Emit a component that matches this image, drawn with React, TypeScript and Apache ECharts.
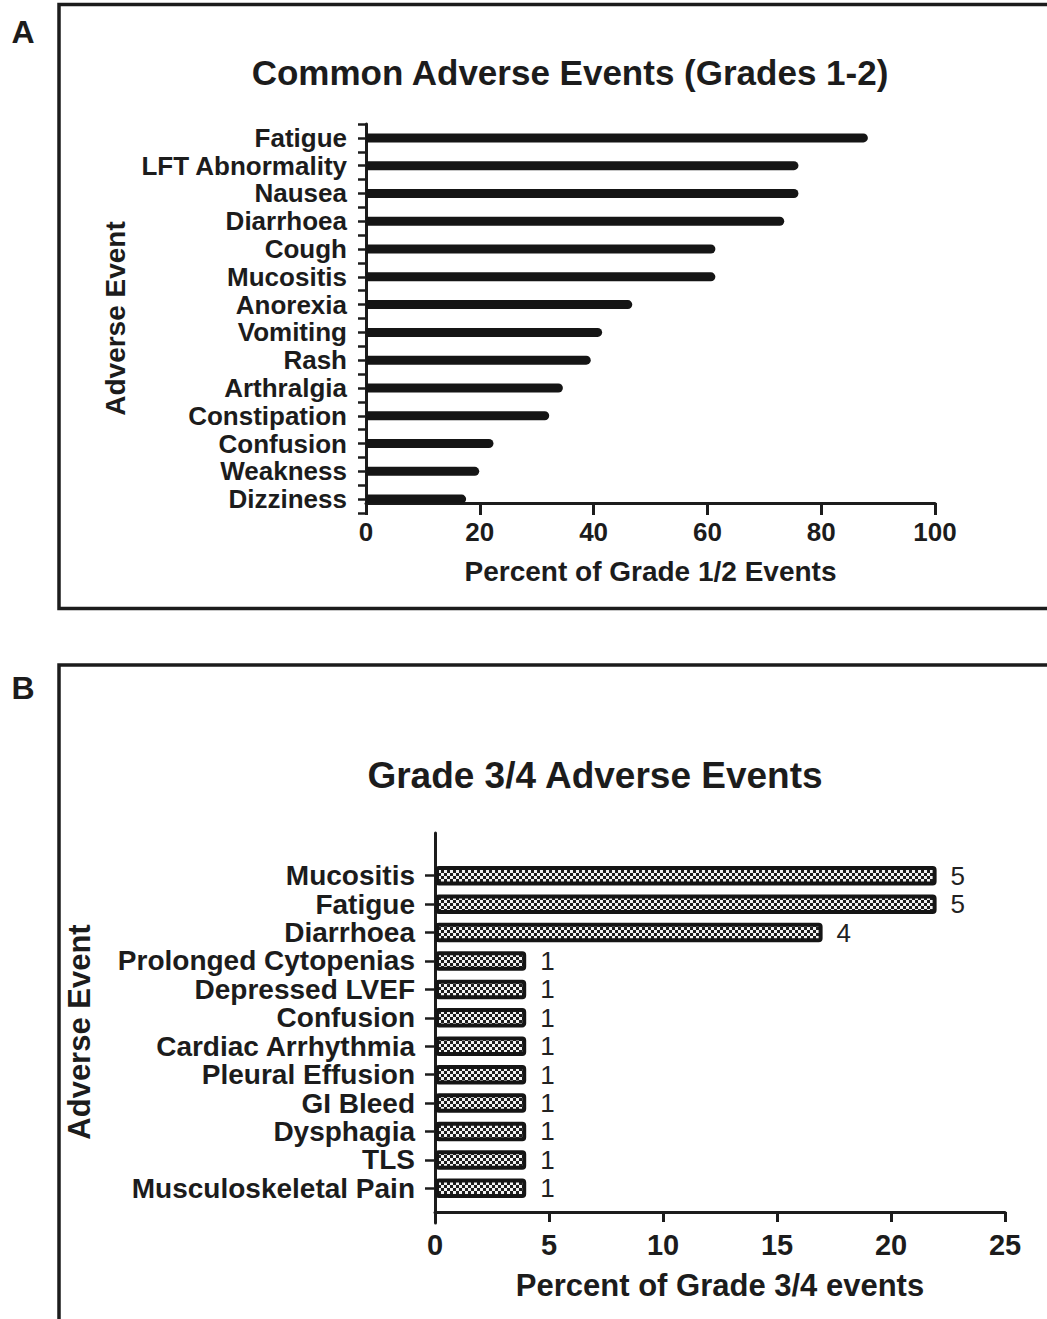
import React, { useEffect, useRef } from "react";
import * as echarts from "echarts";

const catsA = ["Fatigue", "LFT Abnormality", "Nausea", "Diarrhoea", "Cough", "Mucositis", "Anorexia", "Vomiting", "Rash", "Arthralgia", "Constipation", "Confusion", "Weakness", "Dizziness"];
const valsA = [88.2, 76, 76, 73.5, 61.4, 61.4, 46.8, 41.5, 39.5, 34.6, 32.2, 22.4, 19.9, 17.6];
const ticksA = { min: 0, max: 100, interval: 20 };

const catsB = ["Mucositis", "Fatigue", "Diarrhoea", "Prolonged Cytopenias", "Depressed LVEF", "Confusion", "Cardiac Arrhythmia", "Pleural Effusion", "GI Bleed", "Dysphagia", "TLS", "Musculoskeletal Pain"];
const valsB = [22, 22, 17, 4, 4, 4, 4, 4, 4, 4, 4, 4];
const countsB = [5, 5, 4, 1, 1, 1, 1, 1, 1, 1, 1, 1];
const ticksB = { min: 0, max: 25, interval: 5 };

const FONT = '"Liberation Sans", Arial, Helvetica, sans-serif';
const INK = "#1c1c1c";

export default function App() {
  const ref = useRef<HTMLDivElement>(null);
  useEffect(() => {
    if (!ref.current) return;
    const chart = echarts.init(ref.current, undefined, { renderer: "svg" });

    const cv = document.createElement("canvas");
    cv.width = 6;
    cv.height = 6;
    const ctx = cv.getContext("2d")!;
    ctx.fillStyle = "#1e1e1e";
    ctx.fillRect(0, 0, 6, 6);
    ctx.fillStyle = "#f2f2f2";
    ctx.fillRect(0, 0, 3, 3);
    ctx.fillRect(3, 3, 3, 3);

    const axisLine = { show: true, lineStyle: { color: INK, width: 3 } };
    const lbl = (size: number) => ({ color: INK, fontFamily: FONT, fontWeight: "bold" as const, fontSize: size });

    chart.setOption({
      animation: false,
      backgroundColor: "#ffffff",
      graphic: [
        { type: "rect", shape: { x: 59, y: 4.5, width: 1010, height: 604 }, style: { fill: "none", stroke: INK, lineWidth: 3.5 } },
        { type: "rect", shape: { x: 59, y: 665, width: 1010, height: 700 }, style: { fill: "none", stroke: INK, lineWidth: 3.5 } },
        { type: "text", x: 23, y: 32, style: { text: "A", fill: INK, font: `bold 32px ${FONT}`, align: "center", verticalAlign: "middle" } },
        { type: "text", x: 23, y: 688, style: { text: "B", fill: INK, font: `bold 32px ${FONT}`, align: "center", verticalAlign: "middle" } },
        { type: "text", x: 570, y: 72, style: { text: "Common Adverse Events (Grades 1-2)", fill: INK, font: `bold 35px ${FONT}`, align: "center", verticalAlign: "middle" } },
        { type: "text", x: 595, y: 775, style: { text: "Grade 3/4 Adverse Events", fill: INK, font: `bold 37px ${FONT}`, align: "center", verticalAlign: "middle" } },
      ],
      grid: [
        { left: 366, width: 569, top: 124, height: 389 },
        { left: 435, width: 570, top: 861.5, height: 341 },
        { left: 435, width: 570, top: 833, height: 390 },
      ],
      xAxis: [
        {
          gridIndex: 0, type: "value", ...ticksA, offset: -10,
          axisLine, axisTick: { show: true, length: 12, lineStyle: { color: INK, width: 3 } },
          axisLabel: { ...lbl(26), margin: 16 }, splitLine: { show: false },
          name: "Percent of Grade 1/2 Events", nameLocation: "middle", nameGap: 54, nameTextStyle: lbl(28),
        },
        {
          gridIndex: 1, type: "value", ...ticksB, offset: 9.5,
          axisLine, axisTick: { show: true, length: 10, lineStyle: { color: INK, width: 3 } },
          axisLabel: { ...lbl(29), margin: 18 }, splitLine: { show: false },
          name: "Percent of Grade 3/4 events", nameLocation: "middle", nameGap: 58, nameTextStyle: lbl(31),
        },
        { gridIndex: 2, type: "value", show: false, min: 0, max: 1 },
      ],
      yAxis: [
        {
          gridIndex: 0, type: "category", data: catsA, inverse: true, position: "left",
          axisLine, axisTick: { show: true, alignWithLabel: true, length: 8, lineStyle: { color: INK, width: 2.5 } },
          axisLabel: { ...lbl(26), margin: 19, interval: 0 },
          name: "Adverse Event", nameLocation: "middle", nameRotate: 90, nameGap: 237, nameTextStyle: lbl(28),
        },
        {
          gridIndex: 0, type: "category", data: catsA, inverse: true, position: "left",
          axisLine: { show: false }, axisTick: { show: true, alignWithLabel: false, interval: 0, length: 8, lineStyle: { color: INK, width: 2.5 } },
          axisLabel: { show: false },
        },
        {
          gridIndex: 1, type: "category", data: catsB, inverse: true, position: "left",
          axisLine: { show: false }, axisTick: { show: true, alignWithLabel: true, interval: 0, length: 10, lineStyle: { color: INK, width: 2.5 } },
          axisLabel: { ...lbl(28), margin: 20, interval: 0 },
          name: "Adverse Event", nameLocation: "middle", nameRotate: 90, nameGap: 340, nameTextStyle: lbl(31),
        },
        {
          gridIndex: 2, type: "value", min: 0, max: 1, position: "left",
          axisLine, axisTick: { show: false }, axisLabel: { show: false }, splitLine: { show: false },
        },
      ],
      series: [
        {
          type: "bar", xAxisIndex: 0, yAxisIndex: 0, data: valsA, barWidth: 9,
          itemStyle: { color: "#151515", borderRadius: [0, 4.5, 4.5, 0] },
        },
        {
          type: "bar", xAxisIndex: 1, yAxisIndex: 2, data: valsB, barWidth: 19.5,
          itemStyle: { color: { image: cv, repeat: "repeat" }, borderColor: "#151515", borderWidth: 4, borderRadius: 2 },
          label: {
            show: true, position: "right", distance: 14, color: "#222", fontFamily: FONT, fontSize: 26,
            formatter: (p: any) => String(countsB[p.dataIndex]),
          },
        },
      ],
    });
    return () => chart.dispose();
  }, []);
  return <div ref={ref} style={{ position: "absolute", left: 0, top: 0, width: 1047, height: 1319 }} />;
}
